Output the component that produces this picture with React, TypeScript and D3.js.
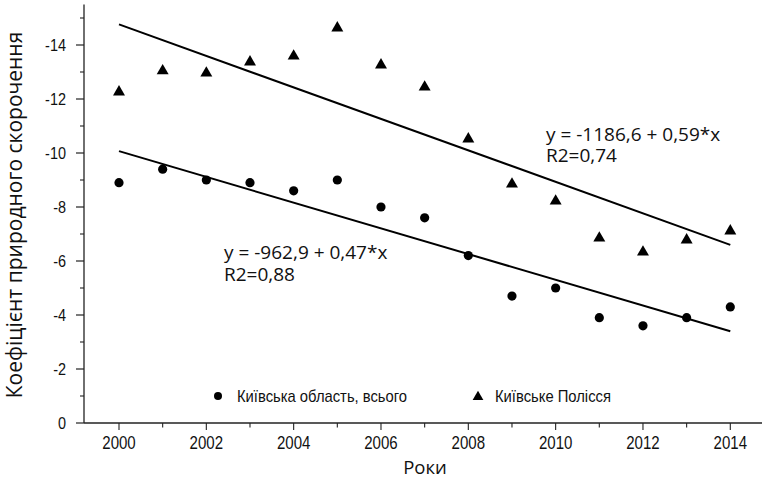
import React from "react";
import * as d3 from "d3";

// роки спостережень
const years = [2000, 2001, 2002, 2003, 2004, 2005, 2006, 2007, 2008, 2009, 2010, 2011, 2012, 2013, 2014];
// Київська область, всього
const oblast = [-8.9, -9.4, -9.0, -8.9, -8.6, -9.0, -8.0, -7.6, -6.2, -4.7, -5.0, -3.9, -3.6, -3.9, -4.3];
// Київське Полісся
const polissia = [-12.26, -13.04, -12.96, -13.37, -13.59, -14.63, -13.26, -12.44, -10.52, -8.85, -8.22, -6.85, -6.33, -6.78, -7.11];

const yTicks = [0, -2, -4, -6, -8, -10, -12, -14];
const yMinor = [-1, -3, -5, -7, -9, -11, -13, -15];
const xLabels = [2000, 2002, 2004, 2006, 2008, 2010, 2012, 2014];

const legendNames = ["Київська область, всього", "Київське Полісся"];
const equations = [
  ["y = -962,9 + 0,47*x", "R2=0,88"],
  ["y = -1186,6 + 0,59*x", "R2=0,74"],
];

const W = 762;
const H = 479;
const narrow = "'Liberation Sans', Arial, sans-serif";
const regular = "'Open Sans', 'Noto Sans', sans-serif";

// least squares fit
function fit(xs: number[], ys: number[]) {
  const mx = d3.mean(xs)!;
  const my = d3.mean(ys)!;
  let num = 0;
  let den = 0;
  xs.forEach((x, i) => {
    num += (x - mx) * (ys[i] - my);
    den += (x - mx) * (x - mx);
  });
  const b = num / den;
  return (x: number) => my + b * (x - mx);
}

// squeezed text, stands in for a condensed face
const Cond = ({ x, y, anchor = "start", size = 16, sx = 0.86, children }: any) => (
  <text
    transform={`translate(${x},${y}) scale(${sx},1)`}
    textAnchor={anchor}
    fontFamily={narrow}
    fontSize={size}
    fill="#111"
  >
    {children}
  </text>
);

export default function App() {
  const x = d3.scaleLinear().domain([2000, 2014]).range([119, 730.3]);
  const y = d3.scaleLinear().domain([0, -15.5]).range([423, 4.5]);

  const axisX = 84;
  const axisY = y(0);

  const fitLine = (vals: number[]) => {
    const f = fit(years, vals);
    const ends = [years[0], years[years.length - 1]];
    return d3.line<number>().x(d => x(d)).y(d => y(f(d)))(ends) || "";
  };

  const tri = d3.symbol().type(d3.symbolTriangle).size(62)() || "";

  return (
    <svg width={W} height={H} style={{ position: "absolute", left: 0, top: 0, background: "#fff" }}>
      {/* y axis */}
      <line x1={axisX} x2={axisX} y1={y(-15.5)} y2={axisY} stroke="#222" strokeWidth={1.3} />
      {yTicks.map(t => (
        <g key={"yt" + t}>
          <line x1={axisX - 8} x2={axisX} y1={y(t)} y2={y(t)} stroke="#222" strokeWidth={1.2} />
          <Cond x={66} y={y(t) + 6} anchor="end" size={17} sx={0.85}>
            {t === 0 ? "0" : "-" + Math.abs(t)}
          </Cond>
        </g>
      ))}
      {yMinor.map(t => (
        <line key={"ym" + t} x1={axisX - 4} x2={axisX} y1={y(t)} y2={y(t)} stroke="#222" strokeWidth={1.1} />
      ))}

      {/* x axis */}
      <line x1={axisX} x2={W} y1={axisY} y2={axisY} stroke="#222" strokeWidth={1.3} />
      {years.map(yr => (
        <line key={"xt" + yr} x1={x(yr)} x2={x(yr)} y1={axisY} y2={axisY + (yr % 2 === 0 ? 7 : 4.5)} stroke="#222" strokeWidth={1.1} />
      ))}
      {xLabels.map(yr => (
        <Cond key={"xl" + yr} x={x(yr)} y={449} anchor="middle" size={17.5} sx={0.86}>
          {yr}
        </Cond>
      ))}

      {/* axis titles */}
      <text x={425} y={474} textAnchor="middle" fontFamily={regular} fontSize={18.5} fill="#111">
        Роки
      </text>
      <text transform="translate(15,215) rotate(-90)" dy="0.35em" textAnchor="middle" fontFamily={regular} fontSize={21} fill="#111">
        Коефіцієнт природного скорочення
      </text>

      {/* trend lines */}
      <path d={fitLine(oblast)} stroke="#000" strokeWidth={2} fill="none" />
      <path d={fitLine(polissia)} stroke="#000" strokeWidth={2} fill="none" />

      {/* points */}
      {oblast.map((v, i) => (
        <circle key={"o" + i} cx={x(years[i])} cy={y(v)} r={4.6} fill="#000" />
      ))}
      {polissia.map((v, i) => (
        <path key={"p" + i} d={tri} transform={`translate(${x(years[i])},${y(v)})`} fill="#000" />
      ))}

      {/* equations */}
      <text x={224} y={259} fontFamily={regular} fontSize={19} fill="#111">{equations[0][0]}</text>
      <text x={224} y={280.5} fontFamily={regular} fontSize={19} fill="#111">{equations[0][1]}</text>
      <text x={546} y={140.5} fontFamily={regular} fontSize={19} fill="#111">{equations[1][0]}</text>
      <text x={546} y={161.5} fontFamily={regular} fontSize={19} fill="#111">{equations[1][1]}</text>

      {/* legend */}
      <circle cx={218} cy={396} r={4} fill="#000" />
      <Cond x={237} y={401.5} size={17} sx={0.87}>{legendNames[0]}</Cond>
      <path d={d3.symbol().type(d3.symbolTriangle).size(50)() || ""} transform="translate(478,397)" fill="#000" />
      <Cond x={495} y={401.5} size={17} sx={0.87}>{legendNames[1]}</Cond>
    </svg>
  );
}
